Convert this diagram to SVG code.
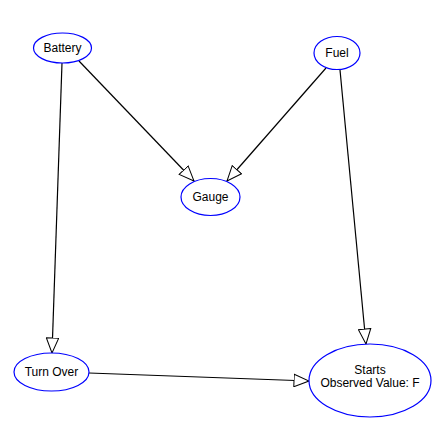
<svg xmlns="http://www.w3.org/2000/svg" width="443" height="425" viewBox="0 0 443 425">
  <style>
    .node ellipse { fill: #ffffff; stroke: #0000ff; stroke-width: 1.2; }
    .node text { font-family: "Liberation Sans", Arial, sans-serif; font-size: 12px; fill: #000000; text-anchor: middle; }
    .edge { stroke: #000000; stroke-width: 1.2; fill: none; marker-end: url(#open-arrow); }
  </style>
  <defs>
    <marker id="open-arrow" markerUnits="userSpaceOnUse" viewBox="0 0 16 14" refX="15.5" refY="7" markerWidth="16" markerHeight="14" orient="auto">
      <path d="M0.5,0.8 L15.5,7 L0.5,13.2 Z" fill="#ffffff" stroke="#000000" stroke-width="1"/>
    </marker>
  </defs>
  <rect width="443" height="425" fill="#ffffff"/>
  <g id="connectors">
    <line class="edge" x1="79" y1="61" x2="194" y2="181"/>
    <line class="edge" x1="326" y1="68" x2="227" y2="181"/>
    <line class="edge" x1="62" y1="63" x2="52" y2="353"/>
    <line class="edge" x1="340" y1="70" x2="366" y2="344"/>
    <line class="edge" x1="89" y1="373" x2="309" y2="381"/>
  </g>
  <g id="battery" class="node">
    <ellipse cx="62.5" cy="48" rx="29" ry="15"/>
    <text x="62.5" y="52">Battery</text>
  </g>
  <g id="fuel" class="node">
    <ellipse cx="337" cy="53" rx="23" ry="16.5"/>
    <text x="337" y="57">Fuel</text>
  </g>
  <g id="gauge" class="node">
    <ellipse cx="210.5" cy="197" rx="29.5" ry="18.5"/>
    <text x="210.5" y="201">Gauge</text>
  </g>
  <g id="turn-over" class="node">
    <ellipse cx="51.5" cy="372" rx="37.5" ry="19"/>
    <text x="51.5" y="376">Turn Over</text>
  </g>
  <g id="starts" class="node">
    <ellipse cx="370" cy="380.5" rx="61" ry="36.5"/>
    <text x="370" y="374">Starts</text>
    <text x="370" y="387">Observed Value: F</text>
  </g>
</svg>
